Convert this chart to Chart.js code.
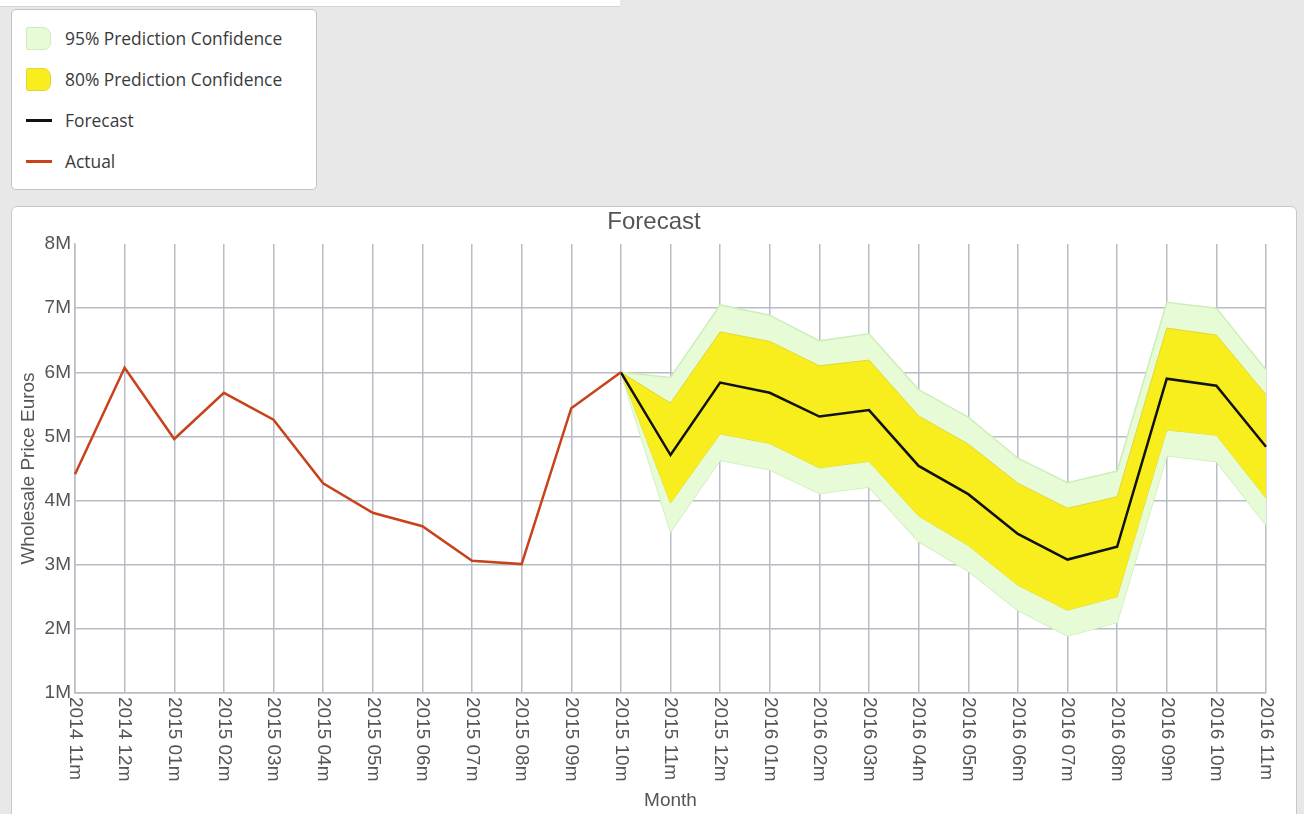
<!DOCTYPE html>
<html>
<head>
<meta charset="utf-8">
<script src="https://cdn.jsdelivr.net/npm/chart.js@4.4.1/dist/chart.umd.min.js"></script>
<style>
  html, body { margin: 0; padding: 0; }
  body { width: 1304px; height: 814px; background: #e8e8e8; position: relative; overflow: hidden; }
  #topStrip { position: absolute; left: 0; top: 0; width: 620px; height: 6px; background: #fff; border-bottom: 1px solid #d6d6d6; }
  #legendBox { position: absolute; left: 11px; top: 9px; width: 304px; height: 179px; background: #fff;
               border: 1px solid #c2c2c2; border-radius: 5px; box-sizing: content-box; }
  .lg-item { position: absolute; left: 14px; height: 24px; display: flex; align-items: center;
             font-family: "Open Sans", "Noto Sans", sans-serif; font-size: 17.4px; color: #3a3a3a; }
  .lg-swatch { width: 25px; height: 23px; box-sizing: border-box; margin-right: 14px; border-radius: 2px 8px 7px 2px; }
  .lg-line { width: 26px; height: 3px; margin-right: 13px; }
  #panel { position: absolute; left: 11px; top: 206px; width: 1284px; height: 640px; background: #fff;
           border: 1px solid #c8c8c8; border-radius: 6px; }
  #chart { position: absolute; left: 0; top: 1px; }
</style>
</head>
<body>
<div id="topStrip"></div>
<div id="legendBox"></div>
<div id="panel"><canvas id="chart" width="1284" height="606"></canvas></div>
<script>
// Month categories
const months = ['2014 11m','2014 12m','2015 01m','2015 02m','2015 03m','2015 04m','2015 05m','2015 06m',
  '2015 07m','2015 08m','2015 09m','2015 10m','2015 11m','2015 12m','2016 01m','2016 02m','2016 03m',
  '2016 04m','2016 05m','2016 06m','2016 07m','2016 08m','2016 09m','2016 10m','2016 11m'];

// Wholesale price, millions of euros
const actual = [4.41, 6.07, 4.96, 5.68, 5.26, 4.27, 3.81, 3.60, 3.06, 3.01, 5.44, 6.00,
  null, null, null, null, null, null, null, null, null, null, null, null, null];
const forecast = [null, null, null, null, null, null, null, null, null, null, null,
  6.00, 4.71, 5.84, 5.68, 5.31, 5.41, 4.54, 4.10, 3.48, 3.08, 3.28, 5.90, 5.79, 4.84];
const upper80 = [null, null, null, null, null, null, null, null, null, null, null,
  6.00, 5.52, 6.63, 6.48, 6.10, 6.19, 5.32, 4.88, 4.27, 3.88, 4.06, 6.69, 6.58, 5.65];
const lower80 = [null, null, null, null, null, null, null, null, null, null, null,
  6.00, 3.96, 5.04, 4.89, 4.51, 4.61, 3.76, 3.30, 2.68, 2.29, 2.50, 5.10, 5.02, 4.04];
const upper95 = [null, null, null, null, null, null, null, null, null, null, null,
  6.00, 5.92, 7.05, 6.89, 6.49, 6.60, 5.73, 5.30, 4.66, 4.28, 4.46, 7.09, 7.00, 6.04];
const lower95 = [null, null, null, null, null, null, null, null, null, null, null,
  6.00, 3.51, 4.63, 4.48, 4.11, 4.21, 3.36, 2.90, 2.29, 1.89, 2.10, 4.70, 4.61, 3.62];

// Y axis range (millions)
const yTicks = [1, 2, 3, 4, 5, 6, 7, 8];

const seriesNames = ['95% Prediction Confidence', '80% Prediction Confidence', 'Forecast', 'Actual'];

const band95Fill = '#e6fbd6', band95Line = '#cdeebb';
const band80Fill = '#f8ee1e', band80Line = '#e4d638';
const forecastColor = '#111111', actualColor = '#c8421b';
const gridColor = '#b8bcc5';
const axisFont = '"Liberation Sans", Arial, sans-serif';
const textColor = '#555555';

// HTML legend
const legendBox = document.getElementById('legendBox');
const legendSpec = [
  { name: seriesNames[0], kind: 'box', fill: band95Fill, line: band95Line },
  { name: seriesNames[1], kind: 'box', fill: band80Fill, line: band80Line },
  { name: seriesNames[2], kind: 'line', line: forecastColor },
  { name: seriesNames[3], kind: 'line', line: actualColor }
];
legendSpec.forEach((it, i) => {
  const row = document.createElement('div');
  row.className = 'lg-item';
  row.style.top = (16 + i * 41) + 'px';
  const sw = document.createElement('span');
  if (it.kind === 'box') {
    sw.className = 'lg-swatch';
    sw.style.background = it.fill;
    sw.style.border = '1px solid ' + it.line;
  } else {
    sw.className = 'lg-line';
    sw.style.background = it.line;
  }
  const tx = document.createElement('span');
  tx.textContent = it.name;
  row.appendChild(sw);
  row.appendChild(tx);
  legendBox.appendChild(row);
});

// Month labels drawn top-to-bottom under each tick
const verticalMonthLabels = {
  id: 'verticalMonthLabels',
  afterDraw(chart) {
    const scale = chart.scales.x;
    const ctx = chart.ctx;
    ctx.save();
    ctx.font = '19px ' + axisFont;
    ctx.fillStyle = textColor;
    ctx.textAlign = 'left';
    ctx.textBaseline = 'middle';
    scale.ticks.forEach((t, i) => {
      const x = scale.getPixelForTick(i);
      ctx.save();
      ctx.translate(x, scale.top + 4);
      ctx.rotate(Math.PI / 2);
      ctx.fillText(scale.getLabelForValue(t.value), 0, 0);
      ctx.restore();
    });
    ctx.restore();
  }
};

const lineBase = { pointRadius: 0, pointHoverRadius: 0, tension: 0, spanGaps: false };

new Chart(document.getElementById('chart'), {
  type: 'line',
  data: {
    labels: months,
    datasets: [
      Object.assign({ label: seriesNames[0], data: upper95, fill: '+1', backgroundColor: band95Fill,
        borderColor: band95Line, borderWidth: 1.5, order: 5 }, lineBase),
      Object.assign({ label: seriesNames[0] + ' (lower)', data: lower95, fill: false,
        borderColor: band95Line, borderWidth: 1.5, order: 5 }, lineBase),
      Object.assign({ label: seriesNames[1], data: upper80, fill: '+1', backgroundColor: band80Fill,
        borderColor: band80Line, borderWidth: 1, order: 3 }, lineBase),
      Object.assign({ label: seriesNames[1] + ' (lower)', data: lower80, fill: false,
        borderColor: band80Line, borderWidth: 1, order: 3 }, lineBase),
      Object.assign({ label: seriesNames[2], data: forecast, fill: false,
        borderColor: forecastColor, borderWidth: 2.5, order: 1 }, lineBase),
      Object.assign({ label: seriesNames[3], data: actual, fill: false,
        borderColor: actualColor, borderWidth: 2.5, order: 0 }, lineBase)
    ]
  },
  options: {
    responsive: false,
    animation: false,
    layout: { padding: 0 },
    plugins: {
      legend: { display: false },
      tooltip: { enabled: false },
      title: {
        display: true, text: 'Forecast', color: textColor,
        font: { family: axisFont, size: 24, weight: 'normal', lineHeight: 1 },
        padding: { top: 2, bottom: 10 }
      }
    },
    scales: {
      x: {
        type: 'category',
        grid: { color: gridColor, lineWidth: 1.5, drawTicks: false, offset: false },
        border: { display: true, color: gridColor, width: 1.5 },
        ticks: { display: false, autoSkip: false },
        title: { display: true, text: 'Month', color: textColor,
          font: { family: axisFont, size: 19 }, padding: { top: 0, bottom: 2 } },
        afterFit(scale) { scale.height = 121; }
      },
      y: {
        min: yTicks[0], max: yTicks[yTicks.length - 1],
        afterBuildTicks(scale) { scale.ticks = yTicks.map(v => ({ value: v })); },
        grid: {
          color: c => (c.tick && c.tick.value === yTicks[yTicks.length - 1]) ? 'rgba(0,0,0,0)' : gridColor,
          lineWidth: 1.5, drawTicks: false
        },
        border: { display: true, color: gridColor, width: 1.5 },
        ticks: { color: textColor, font: { family: axisFont, size: 19 }, padding: 4,
          callback: v => v + 'M' },
        title: { display: true, text: 'Wholesale Price Euros', color: textColor,
          font: { family: axisFont, size: 19 }, padding: { top: 5, bottom: 0 } },
        afterFit(scale) { scale.width = 63; }
      },
      // blank right-hand margin axis
      yRight: {
        position: 'right',
        min: yTicks[0], max: yTicks[yTicks.length - 1],
        grid: { display: false, drawTicks: false },
        border: { display: false },
        ticks: { display: false },
        afterFit(scale) { scale.width = 30; }
      }
    }
  },
  plugins: [verticalMonthLabels]
});
</script>
</body>
</html>
